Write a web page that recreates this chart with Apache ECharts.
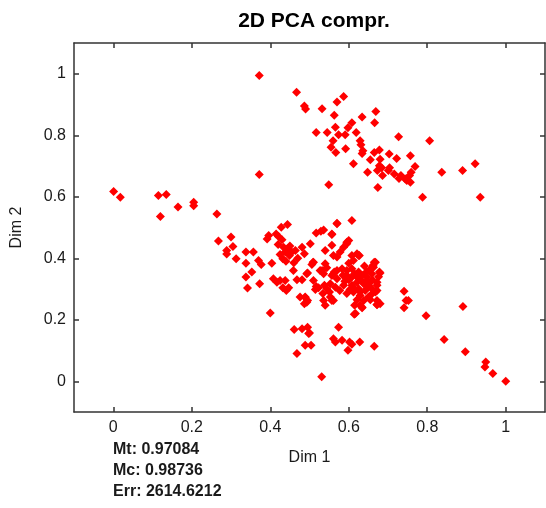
<!DOCTYPE html>
<html>
<head>
<meta charset="utf-8">
<script src="https://cdn.jsdelivr.net/npm/echarts@6/dist/echarts.min.js"></script>
<style>
  html, body { margin: 0; padding: 0; background: #fff; }
  #chart { width: 546px; height: 508px; }
</style>
</head>
<body>
<div id="chart"></div>
<script>
// tick positions on both axes
const tickValues = [0, 0.2, 0.4, 0.6, 0.8, 1];
const statLines = ['Mt: 0.97084', 'Mc: 0.98736', 'Err: 2614.6212'];

// [Dim 1, Dim 2] pairs
const tailPts = [
  [0.001, 0.617], [0.018, 0.598], [0.115, 0.604], [0.135, 0.607], [0.120, 0.536],
  [0.165, 0.567], [0.205, 0.582], [0.205, 0.571], [0.264, 0.544], [0.268, 0.456],
  [0.300, 0.469], [0.305, 0.438], [0.289, 0.425], [0.289, 0.414], [0.313, 0.398]
];

const upperPts = [
  [0.372, 0.994], [0.372, 0.672], [0.467, 0.940], [0.487, 0.895], [0.490, 0.885],
  [0.587, 0.926], [0.570, 0.908], [0.532, 0.886], [0.563, 0.865], [0.669, 0.877],
  [0.634, 0.859], [0.608, 0.841], [0.666, 0.841], [0.517, 0.809], [0.545, 0.809],
  [0.566, 0.826], [0.598, 0.824], [0.619, 0.809], [0.574, 0.802], [0.591, 0.802],
  [0.560, 0.782], [0.555, 0.761], [0.567, 0.744], [0.592, 0.756], [0.629, 0.782],
  [0.631, 0.769], [0.636, 0.750], [0.634, 0.741], [0.665, 0.744], [0.678, 0.752],
  [0.703, 0.739], [0.727, 0.795], [0.806, 0.782], [0.612, 0.707], [0.655, 0.720],
  [0.680, 0.722], [0.678, 0.701], [0.684, 0.694], [0.673, 0.685], [0.704, 0.694],
  [0.701, 0.685], [0.722, 0.724], [0.757, 0.733], [0.648, 0.680], [0.686, 0.669],
  [0.716, 0.674], [0.733, 0.669], [0.728, 0.659], [0.748, 0.653], [0.744, 0.658],
  [0.759, 0.680], [0.755, 0.669], [0.757, 0.647], [0.769, 0.698], [0.837, 0.680],
  [0.890, 0.685], [0.922, 0.707], [0.549, 0.639], [0.674, 0.630], [0.788, 0.598],
  [0.935, 0.598]
];

const mainPts = [
  [0.338, 0.420], [0.357, 0.420], [0.338, 0.384], [0.370, 0.393], [0.377, 0.380],
  [0.404, 0.384], [0.353, 0.355], [0.338, 0.339], [0.342, 0.303], [0.373, 0.317],
  [0.400, 0.222], [0.392, 0.463], [0.396, 0.474], [0.415, 0.479], [0.421, 0.471],
  [0.428, 0.501], [0.444, 0.510], [0.430, 0.460], [0.434, 0.436], [0.444, 0.431],
  [0.438, 0.420], [0.425, 0.412], [0.432, 0.398], [0.449, 0.409], [0.464, 0.425],
  [0.481, 0.436], [0.487, 0.415], [0.502, 0.447], [0.517, 0.482], [0.529, 0.488],
  [0.536, 0.492], [0.557, 0.479], [0.570, 0.512], [0.608, 0.523], [0.557, 0.442],
  [0.540, 0.425], [0.509, 0.387], [0.459, 0.360], [0.495, 0.352], [0.408, 0.333],
  [0.425, 0.328], [0.438, 0.328], [0.417, 0.322], [0.432, 0.304], [0.447, 0.304],
  [0.441, 0.295], [0.468, 0.330], [0.481, 0.330], [0.510, 0.328], [0.517, 0.308],
  [0.523, 0.304], [0.515, 0.298], [0.538, 0.312], [0.544, 0.301], [0.534, 0.285],
  [0.551, 0.290], [0.476, 0.274], [0.489, 0.272], [0.495, 0.263], [0.487, 0.252],
  [0.536, 0.263], [0.540, 0.247], [0.557, 0.263], [0.544, 0.369], [0.540, 0.382],
  [0.532, 0.360], [0.563, 0.355], [0.557, 0.344], [0.570, 0.333], [0.553, 0.317],
  [0.566, 0.306], [0.561, 0.409], [0.570, 0.404], [0.578, 0.420], [0.587, 0.436],
  [0.595, 0.447], [0.600, 0.458], [0.608, 0.409], [0.612, 0.393], [0.600, 0.384],
  [0.621, 0.415], [0.627, 0.409], [0.583, 0.366], [0.595, 0.360], [0.608, 0.366],
  [0.595, 0.344], [0.608, 0.339], [0.621, 0.339], [0.634, 0.344], [0.646, 0.339],
  [0.659, 0.350], [0.663, 0.371], [0.668, 0.387], [0.678, 0.355], [0.621, 0.322],
  [0.638, 0.317], [0.655, 0.322], [0.672, 0.322], [0.625, 0.301], [0.642, 0.295],
  [0.659, 0.301], [0.672, 0.295], [0.629, 0.279], [0.650, 0.274], [0.638, 0.263],
  [0.655, 0.265], [0.621, 0.265], [0.634, 0.241], [0.672, 0.250], [0.595, 0.285],
  [0.587, 0.312], [0.577, 0.295], [0.608, 0.312], [0.614, 0.301], [0.615, 0.247],
  [0.570, 0.514], [0.557, 0.477], [0.595, 0.452], [0.625, 0.409], [0.665, 0.387],
  [0.662, 0.377], [0.680, 0.352], [0.510, 0.387], [0.506, 0.380], [0.493, 0.350],
  [0.527, 0.360], [0.536, 0.350], [0.561, 0.350], [0.570, 0.360], [0.672, 0.312],
  [0.668, 0.290], [0.672, 0.263], [0.612, 0.290], [0.629, 0.290], [0.617, 0.220],
  [0.680, 0.252], [0.553, 0.274], [0.561, 0.263], [0.489, 0.274], [0.493, 0.257],
  [0.629, 0.247], [0.634, 0.239], [0.614, 0.218], [0.672, 0.249],
  [0.600, 0.330], [0.615, 0.350], [0.645, 0.355], [0.650, 0.310], [0.660, 0.285],
  [0.630, 0.330], [0.645, 0.325], [0.603, 0.298], [0.585, 0.345], [0.655, 0.365],
  [0.640, 0.375], [0.676, 0.340], [0.660, 0.330], [0.625, 0.355], [0.590, 0.325],
  [0.450, 0.440], [0.455, 0.420], [0.420, 0.445], [0.470, 0.400], [0.440, 0.390],
  [0.460, 0.385]
];

const lowerPts = [
  [0.461, 0.168], [0.481, 0.171], [0.495, 0.176], [0.498, 0.155], [0.500, 0.157],
  [0.489, 0.117], [0.504, 0.117], [0.468, 0.090], [0.574, 0.176], [0.561, 0.138],
  [0.566, 0.128], [0.583, 0.133], [0.602, 0.128], [0.608, 0.120], [0.628, 0.128],
  [0.598, 0.101], [0.665, 0.114], [0.531, 0.015]
];

const rightTailPts = [
  [0.741, 0.293], [0.746, 0.263], [0.752, 0.263], [0.741, 0.239], [0.891, 0.243],
  [0.797, 0.213], [0.843, 0.136], [0.897, 0.096], [0.949, 0.063], [0.947, 0.046],
  [0.967, 0.025], [1.000, 0.000]
];

const chart = echarts.init(document.getElementById('chart'), null, { renderer: 'canvas' });

const textColor = '#1a1a1a';
const lineColor = '#333';
const font = 'Liberation Sans';

// one axis of the box: ticks pointing inwards, labels only on bottom / left
function boxAxis(position, showLabels, name) {
  return {
    type: 'value',
    position: position,
    min: -0.1,
    max: 1.1,
    name: name || '',
    nameLocation: 'middle',
    nameGap: position === 'bottom' ? 38 : 49,
    nameTextStyle: { color: textColor, fontSize: 16, fontFamily: font },
    axisLine: { show: true, onZero: false, lineStyle: { color: lineColor, width: 1.5 } },
    axisTick: { show: true, inside: true, length: 5, customValues: tickValues,
      lineStyle: { color: lineColor, width: 1.5 } },
    axisLabel: { show: showLabels, customValues: tickValues, margin: 8,
      color: textColor, fontSize: 16, fontFamily: font,
      formatter: v => String(Math.round(v * 10) / 10) },
    splitLine: { show: false }
  };
}

const option = {
  backgroundColor: '#fff',
  animation: false,
  title: {
    text: '2D PCA compr.',
    left: 309,
    textAlign: 'center',
    top: 6,
    textStyle: { color: '#000', fontSize: 21, fontWeight: 'bold', fontFamily: font }
  },
  grid: { left: 74, right: 1, top: 43, bottom: 96 },
  xAxis: [boxAxis('bottom', true, 'Dim 1'), boxAxis('top', false)],
  yAxis: [boxAxis('left', true, 'Dim 2'), boxAxis('right', false)],
  graphic: statLines.map((t, i) => ({
    type: 'text',
    left: 113,
    top: 442 + i * 21,
    style: { text: t, fill: textColor, font: 'bold 16px "Liberation Sans"' }
  })),
  series: [{
    type: 'scatter',
    symbol: 'diamond',
    symbolSize: [9, 9],
    itemStyle: { color: '#ff0000', opacity: 1 },
    data: [].concat(tailPts, upperPts, mainPts, lowerPts, rightTailPts)
  }]
};

chart.setOption(option);
</script>
</body>
</html>
